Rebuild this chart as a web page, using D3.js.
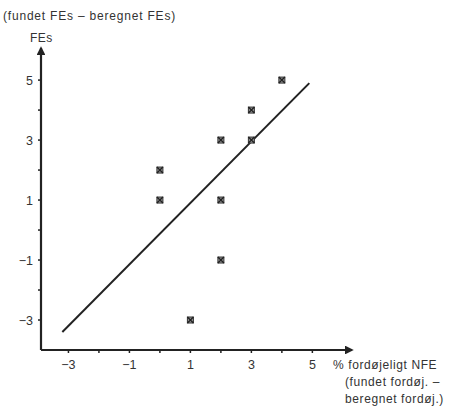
<!DOCTYPE html>
<html>
<head>
<meta charset="utf-8">
<script src="https://cdn.jsdelivr.net/npm/d3@7"></script>
<style>
  body { margin: 0; background: #fff; }
  svg { display: block; font-family: "Liberation Sans", Arial, sans-serif; }
</style>
</head>
<body>
<div id="chart"></div>
<script>
// measured points (x: % fordøjeligt NFE diff, y: FEs diff)
const pointX = [4, 3, 2, 3, 0, 0, 2, 2, 1]
const pointY = [5, 4, 3, 3, 2, 1, 1, -1, -3]
// regression line end points
const lineX = [-3.2, 4.9]
const lineY = [-3.4, 4.9]
const xTicks = [-3, -1, 1, 3, 5]
const yTicks = [5, 3, 1, -1, -3]
const xMinor = [-3, -2, -1, 0, 1, 2, 3, 4, 5]
const yMinor = [-3, -2, -1, 0, 1, 2, 3, 4, 5]

const w = 456, h = 412
const ink = '#222'

const x = d3.scaleLinear().domain([-3.9, 6.3]).range([41, 352])
const y = d3.scaleLinear().domain([-4, 6.07]).range([350, 48])

const svg = d3.select('#chart').append('svg')
  .attr('width', w)
  .attr('height', h)

const defs = svg.append('defs')
defs.append('marker')
  .attr('id', 'arrow')
  .attr('viewBox', '0 0 10 10')
  .attr('refX', 8).attr('refY', 5)
  .attr('markerWidth', 4).attr('markerHeight', 4)
  .attr('orient', 'auto')
  .append('path')
  .attr('d', 'M0,0 L10,5 L0,10 z')
  .attr('fill', ink)

// axes
const x0 = x(-3.9), y0 = y(-4)
svg.append('line')
  .attr('x1', x0).attr('y1', y0)
  .attr('x2', x0).attr('y2', y(6.07))
  .attr('stroke', ink).attr('stroke-width', 2.2)
  .attr('marker-end', 'url(#arrow)')
svg.append('line')
  .attr('x1', x0).attr('y1', y0)
  .attr('x2', x(6.3)).attr('y2', y0)
  .attr('stroke', ink).attr('stroke-width', 2.2)
  .attr('marker-end', 'url(#arrow)')

// minor ticks
svg.selectAll('.ytick').data(yMinor).enter()
  .append('line')
  .attr('x1', x0 - 3).attr('x2', x0)
  .attr('y1', d => y(d)).attr('y2', d => y(d))
  .attr('stroke', ink).attr('stroke-width', 1.5)
svg.selectAll('.xtick').data(xMinor).enter()
  .append('line')
  .attr('x1', d => x(d)).attr('x2', d => x(d))
  .attr('y1', y0).attr('y2', y0 + 3)
  .attr('stroke', ink).attr('stroke-width', 1.5)

// tick labels
svg.selectAll('.ylab').data(yTicks).enter()
  .append('text')
  .attr('x', x0 - 8)
  .attr('y', d => y(d) + 4.5)
  .attr('text-anchor', 'end')
  .attr('font-size', '12.5px')
  .attr('fill', '#333')
  .text(d => d < 0 ? '\u2212' + Math.abs(d) : d)
svg.selectAll('.xlab').data(xTicks).enter()
  .append('text')
  .attr('x', d => x(d))
  .attr('y', y0 + 19)
  .attr('text-anchor', 'middle')
  .attr('font-size', '12.5px')
  .attr('fill', '#333')
  .text(d => d < 0 ? '\u2212' + Math.abs(d) : d)

// axis titles
svg.append('text')
  .attr('x', 3).attr('y', 20)
  .attr('font-size', '12px').attr('letter-spacing', '0.8px').attr('fill', '#333')
  .text('(fundet FEs \u2013 beregnet FEs)')
svg.append('text')
  .attr('x', 30).attr('y', 42)
  .attr('font-size', '12px').attr('letter-spacing', '0.5px').attr('fill', '#333')
  .text('FEs')
const xTitle = ['% fordøjeligt NFE', '(fundet fordøj. \u2013', 'beregnet fordøj.)']
svg.selectAll('.xtitle').data(xTitle).enter()
  .append('text')
  .attr('x', (d, i) => i === 0 ? 333 : 345)
  .attr('y', (d, i) => 369 + i * 17)
  .attr('font-size', '12px').attr('letter-spacing', '0.6px').attr('fill', '#333')
  .text(d => d)

// regression line
svg.append('line')
  .attr('x1', x(lineX[0])).attr('y1', y(lineY[0]))
  .attr('x2', x(lineX[1])).attr('y2', y(lineY[1]))
  .attr('stroke', ink).attr('stroke-width', 2)

// points
const pts = svg.selectAll('.pt')
  .data(pointX.map((d, i) => ({ x: d, y: pointY[i] })))
  .enter().append('g')
  .attr('transform', d => `translate(${x(d.x)},${y(d.y)})`)
pts.append('rect')
  .attr('x', -3).attr('y', -3)
  .attr('width', 6).attr('height', 6)
  .attr('fill', '#999').attr('stroke', '#333').attr('stroke-width', 1)
pts.append('path')
  .attr('d', 'M-3,-3L3,3M3,-3L-3,3')
  .attr('stroke', '#222').attr('stroke-width', 1.4)
</script>
</body>
</html>
